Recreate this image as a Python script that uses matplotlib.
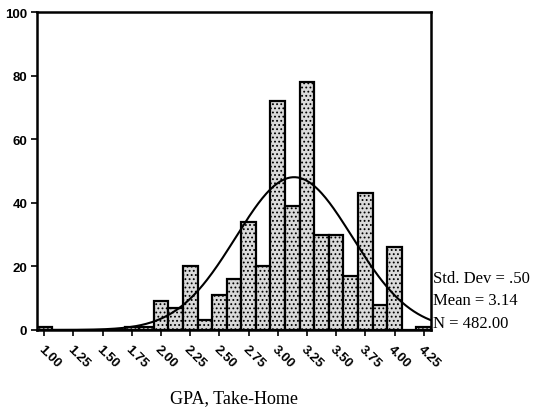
import numpy as np
import matplotlib
matplotlib.use("Agg")
import matplotlib.pyplot as plt

# histogram of take-home GPA, bins 0.125 wide
bin_centers = np.arange(1.0, 4.25 + 0.001, 0.125)
counts = [1, 0, 0, 0, 0, 0, 1, 1,
          9, 7, 20, 3, 11, 16, 34, 20,
          72, 39, 78, 30, 30, 17, 43, 8,
          26, 0, 1]
tick_vals = [1.00, 1.25, 1.50, 1.75, 2.00, 2.25, 2.50, 2.75,
             3.00, 3.25, 3.50, 3.75, 4.00, 4.25]
y_ticks = [0, 20, 40, 60, 80, 100]

std_dev = 0.50
mean = 3.14
n_obs = 482.00
bin_w = 0.125

plt.rcParams['hatch.color'] = '#b0b0b0'
plt.rcParams['hatch.linewidth'] = 0.8

fig = plt.figure(figsize=(5.33, 4.10), dpi=100)
ax = fig.add_axes([0.0694, 0.1927, 0.7392, 0.7753])

ax.bar(bin_centers, counts, width=bin_w, color='#dadada',
       edgecolor='black', linewidth=1.6, hatch='....', zorder=2)

# normal curve from the summary stats
xs = np.linspace(0.9375, 4.3125, 300)
ys = n_obs * bin_w / (std_dev * np.sqrt(2 * np.pi)) * np.exp(-0.5 * ((xs - mean) / std_dev) ** 2)
ax.plot(xs, ys, color='black', linewidth=1.5, zorder=3)

ax.set_xlim(0.9375, 4.3125)
ax.set_ylim(0, 100)
ax.set_yticks(y_ticks)
ax.set_yticklabels([str(v) for v in y_ticks], fontfamily='Liberation Sans',
                   fontweight='bold', fontsize=9.5)
ax.set_xticks(tick_vals)
ax.set_xticklabels(['%.2f' % v for v in tick_vals], rotation=-45,
                   ha='left', va='top', rotation_mode='anchor',
                   fontfamily='Liberation Sans', fontweight='bold', fontsize=9.5)
ax.tick_params(axis='both', direction='out', length=4, width=1.2, pad=3)
ax.tick_params(axis='x', pad=5)
for s in ax.spines.values():
    s.set_linewidth(1.8)

ax.set_xlabel('GPA, Take-Home', fontfamily='Liberation Serif', fontsize=13, labelpad=14)

stats = ['Std. Dev = .50', 'Mean = 3.14', 'N = 482.00']
for i, s in enumerate(stats):
    fig.text(433 / 533, 1 - (279 + 22.5 * i) / 410, s, fontfamily='Liberation Serif',
             fontsize=12, va='center', ha='left')

fig.savefig('out.png', dpi=100)
